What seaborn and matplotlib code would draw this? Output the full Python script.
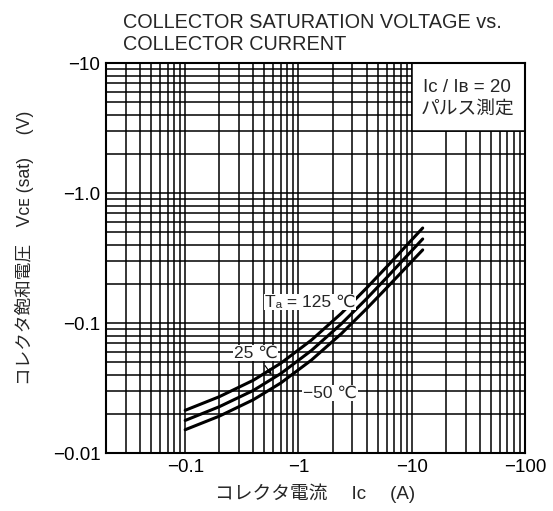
"""
Collector saturation voltage vs. collector current (PNP, Ic/IB = 20)
"""
import numpy as np
import pandas as pd
import matplotlib
matplotlib.use("Agg")
import matplotlib.pyplot as plt
from matplotlib.patches import Rectangle
from matplotlib.ticker import LogLocator, NullFormatter
import seaborn as sns


# ── Données (valeurs absolues, axes affichés en négatif) ──────────────────────

ic = [0.1, 0.2, 0.4, 0.7, 1.3, 2.4, 4.0, 6.0, 9.0, 12.5]
vce_125 = [0.0213, 0.0271, 0.0363, 0.0491, 0.0738, 0.119, 0.186, 0.270, 0.395, 0.538]
vce_25 = [0.0178, 0.0227, 0.0303, 0.0409, 0.0614, 0.0988, 0.154, 0.223, 0.326, 0.443]
vce_m50 = [0.0151, 0.0192, 0.0257, 0.0346, 0.0518, 0.0830, 0.129, 0.186, 0.270, 0.365]
temps = ["125", "25", "-50"]

x_ticks = [0.1, 1, 10, 100]
x_labels = ["−0.1", "−1", "−10", "−100"]
y_ticks = [0.01, 0.1, 1, 10]
y_labels = ["−0.01", "−0.1", "−1.0", "−10"]

df = pd.DataFrame({
    "ic": ic * 3,
    "vce": vce_125 + vce_25 + vce_m50,
    "temp": np.repeat(temps, len(ic)),
})


# ── Figure ────────────────────────────────────────────────────────────────────

sns.set_style("white")
plt.rcParams["font.family"] = ["Liberation Sans", "DejaVu Sans", "Noto Sans CJK JP"]
plt.rcParams["axes.axisbelow"] = True

fig = plt.figure(figsize=(5.53, 5.11), dpi=100)
ax = fig.add_axes([106 / 553, 1 - 453 / 511, 419 / 553, 390 / 511])

ax.set_xscale("log")
ax.set_yscale("log")
sns.lineplot(data=df, x="ic", y="vce", hue="temp", palette=["black"] * 3,
             legend=False, lw=2.2, ax=ax)

ax.set_xlim(0.02, 100)
ax.set_ylim(0.01, 10)
ax.set_xticks(x_ticks, x_labels)
ax.set_yticks(y_ticks, y_labels)
ax.xaxis.set_minor_locator(LogLocator(subs=np.arange(2, 10)))
ax.yaxis.set_minor_locator(LogLocator(subs=np.arange(2, 10)))
ax.xaxis.set_minor_formatter(NullFormatter())
ax.yaxis.set_minor_formatter(NullFormatter())
ax.tick_params(which="both", length=0, labelsize=13.5, colors="black", pad=4)
ax.grid(True, which="both", color="black", lw=1.1)
for sp in ax.spines.values():
    sp.set_color("black")
    sp.set_linewidth(1.5)

# zone blanche de la légende
ax.add_patch(Rectangle((10, 3), 90, 7, fc="white", ec="black", lw=1.1, zorder=1))
ax.text(31, 5.3, "Iᴄ / Iʙ = 20\nパルス測定", ha="center", va="center",
        fontsize=13.5, linespacing=1.45, zorder=3)

# étiquettes des courbes
box = dict(fc="white", ec="none", pad=0.5)
ax.text(1.27, 0.145, "Tₐ = 125 ℃", ha="center", va="center", fontsize=12.5,
        bbox=box, zorder=3)
ax.annotate("25 ℃", xy=(0.58, 0.040), xytext=(0.42, 0.059), ha="center",
            va="center", fontsize=12.5, bbox=box, zorder=3,
            arrowprops=dict(arrowstyle="-|>", color="black", lw=0.8,
                            shrinkA=4, shrinkB=0, mutation_scale=8))
ax.text(1.9, 0.029, "−50 ℃", ha="center", va="center", fontsize=12.5,
        bbox=box, zorder=3)

ax.set_xlabel("コレクタ電流　 Iᴄ 　(A)", fontsize=13.5, labelpad=6)
ax.set_ylabel("コレクタ飽和電圧　Vᴄᴇ (sat)　 (V)", fontsize=12.7)
ax.yaxis.set_label_coords(-0.172, 0.526)

fig.text(123 / 553, 1 - 28 / 511, "COLLECTOR SATURATION VOLTAGE vs.",
         ha="left", va="baseline", fontsize=14.3)
fig.text(123 / 553, 1 - 50 / 511, "COLLECTOR CURRENT",
         ha="left", va="baseline", fontsize=14.3)

fig.savefig("out.png", dpi=100)
